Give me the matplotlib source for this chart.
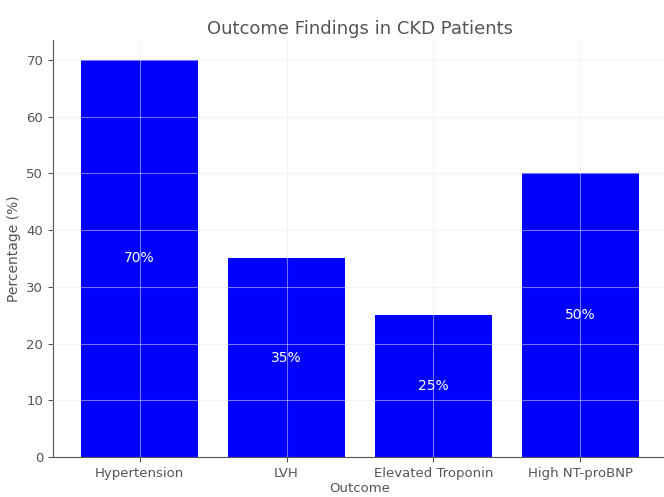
import matplotlib.pyplot as plt

outcomes = ["Hypertension", "LVH", "Elevated Troponin", "High NT-proBNP"]
percentages = [70, 35, 25, 50]
labels = ["70%", "35%", "25%", "50%"]

fig = plt.figure(figsize=(6.64, 4.97), dpi=100)
ax = fig.add_axes([53 / 664, 40 / 497, 614 / 664, 417 / 497])

bars = ax.bar(outcomes, percentages, color="blue", width=0.8)
for bar, lab in zip(bars, labels):
    ax.text(bar.get_x() + bar.get_width() / 2, bar.get_height() / 2, lab,
            ha="center", va="center", color="white", fontsize=10)

ax.set_axisbelow(False)
ax.grid(True, color="#e6e6ff", linewidth=0.8, alpha=0.5)
for s in ["top", "right"]:
    ax.spines[s].set_visible(False)
for s in ["left", "bottom"]:
    ax.spines[s].set_color("#555555")
ax.tick_params(colors="#555555", labelsize=9.5)
ax.set_ylim(0, 73.5)

ax.set_title("Outcome Findings in CKD Patients", color="#555555", fontsize=13, pad=4)
ax.set_ylabel("Percentage (%)", color="#555555", fontsize=10)
ax.set_xlabel("Outcome", color="#555555", fontsize=9.5, labelpad=2)

fig.savefig("out.png", dpi=100)
